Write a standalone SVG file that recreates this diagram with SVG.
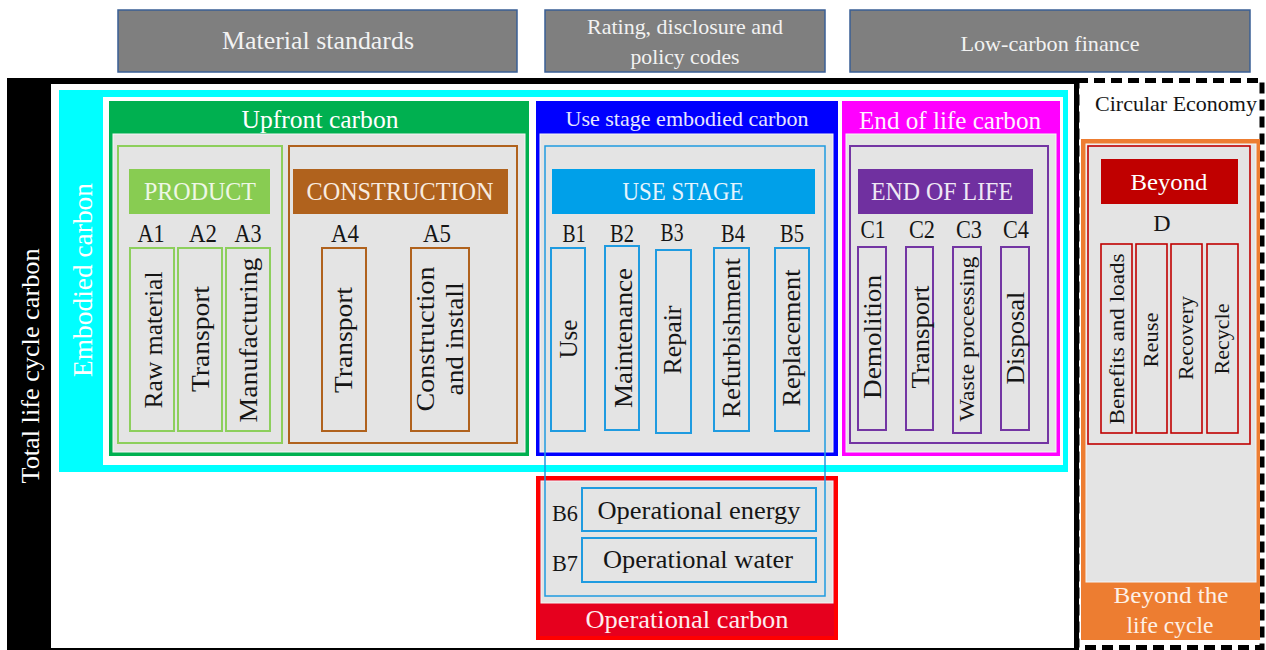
<svg xmlns="http://www.w3.org/2000/svg" width="1266" height="650" viewBox="0 0 1266 650" font-family="'Liberation Serif', 'DejaVu Serif', serif">
<style>
text{font-family:'Liberation Serif','DejaVu Serif',serif;}
.k{fill:#151515}
.hdr{fill:#7f7f7f;stroke:#3a5f95;stroke-width:1.5}
.ht{fill:#f2f2f2}
.gray{fill:#e4e4e4;stroke:#f6f6f6;stroke-width:1}
.lg{fill:none;stroke:#8dcf5c;stroke-width:2}
.br{fill:none;stroke:#b0621d;stroke-width:2}
.lb{fill:none;stroke:#1f9be0;stroke-width:2}
.pu{fill:none;stroke:#7335a3;stroke-width:2}
.dr{fill:none;stroke:#c00000;stroke-width:1.6}
</style>

<g id="material-standards">
<rect class="hdr" x="118" y="10" width="399" height="62"/>
<text class="ht" x="318" y="49" font-size="25" text-anchor="middle" textLength="192" lengthAdjust="spacingAndGlyphs">Material standards</text>
</g>
<g id="rating-disclosure">
<rect class="hdr" x="545" y="10" width="280" height="62"/>
<text class="ht" x="685" y="34" font-size="21" text-anchor="middle" textLength="196" lengthAdjust="spacingAndGlyphs">Rating, disclosure and</text>
<text class="ht" x="685" y="64" font-size="21" text-anchor="middle" textLength="109" lengthAdjust="spacingAndGlyphs">policy codes</text>
</g>
<g id="low-carbon-finance">
<rect class="hdr" x="850" y="10" width="400" height="62"/>
<text class="ht" x="1050" y="51" font-size="22" text-anchor="middle" textLength="179" lengthAdjust="spacingAndGlyphs">Low-carbon finance</text>
</g>

<g id="total-life-cycle-carbon">
<rect x="7" y="78" width="1072" height="572" fill="#000"/>
<rect x="51" y="84" width="1023" height="564" fill="#fff"/>
<text transform="translate(39,366) rotate(-90)" font-size="26" text-anchor="middle" fill="#fff" textLength="235" lengthAdjust="spacingAndGlyphs">Total life cycle carbon</text>
</g>

<g id="circular-economy">
<rect x="1077" y="80.5" width="185" height="567" fill="none" stroke="#000" stroke-width="5" stroke-dasharray="11 6"/>
<text class="k" x="1176" y="111" font-size="21" text-anchor="middle" textLength="162" lengthAdjust="spacingAndGlyphs">Circular Economy</text>
</g>

<g id="beyond-the-life-cycle">
<rect x="1081" y="139" width="179" height="501" fill="#ed7d31"/>
<rect class="gray" x="1086" y="144" width="170" height="438"/>
<text x="1171" y="603" font-size="24" text-anchor="middle" fill="#fdf0e6" textLength="115" lengthAdjust="spacingAndGlyphs">Beyond the</text>
<text x="1170" y="633" font-size="24" text-anchor="middle" fill="#fdf0e6" textLength="87" lengthAdjust="spacingAndGlyphs">life cycle</text>
</g>

<g id="beyond-d">
<rect class="dr" x="1088" y="146" width="162" height="298"/>
<rect x="1101" y="159" width="137" height="45" fill="#c00000"/>
<text x="1169" y="190" font-size="24" text-anchor="middle" fill="#fff" textLength="77" lengthAdjust="spacingAndGlyphs">Beyond</text>
<text class="k" x="1162" y="231" font-size="24" text-anchor="middle">D</text>
<rect class="dr" x="1101" y="244" width="31" height="189"/>
<rect class="dr" x="1136" y="244" width="31" height="189"/>
<rect class="dr" x="1171" y="244" width="31" height="189"/>
<rect class="dr" x="1207" y="244" width="31" height="189"/>
<text class="k" transform="translate(1124,339) rotate(-90)" font-size="21" text-anchor="middle" textLength="171" lengthAdjust="spacingAndGlyphs">Benefits and loads</text>
<text class="k" transform="translate(1158,340) rotate(-90)" font-size="22" text-anchor="middle" textLength="55" lengthAdjust="spacingAndGlyphs">Reuse</text>
<text class="k" transform="translate(1193,338) rotate(-90)" font-size="22" text-anchor="middle" textLength="84" lengthAdjust="spacingAndGlyphs">Recovery</text>
<text class="k" transform="translate(1229,339) rotate(-90)" font-size="22" text-anchor="middle" textLength="71" lengthAdjust="spacingAndGlyphs">Recycle</text>
</g>

<g id="embodied-carbon">
<rect x="59" y="90" width="1009" height="382" fill="#00ffff"/>
<rect x="103" y="97" width="960" height="368" fill="#fff"/>
<text transform="translate(92,280) rotate(-90)" font-size="27" text-anchor="middle" fill="#fff" textLength="194" lengthAdjust="spacingAndGlyphs">Embodied carbon</text>
</g>

<g id="upfront-carbon">
<rect x="109" y="101" width="420" height="355" fill="#00b050"/>
<rect class="gray" x="113" y="134" width="412" height="318"/>
<text x="320" y="128" font-size="25" text-anchor="middle" fill="#fff" textLength="157" lengthAdjust="spacingAndGlyphs">Upfront carbon</text>
</g>

<g id="product">
<rect class="lg" x="118" y="146" width="164" height="297"/>
<rect x="129" y="169" width="141" height="45" fill="#88cc52"/>
<text x="200" y="200" font-size="25" text-anchor="middle" fill="#eef7e6" textLength="112" lengthAdjust="spacingAndGlyphs">PRODUCT</text>
<text class="k" x="151" y="242" font-size="25" text-anchor="middle" textLength="27" lengthAdjust="spacingAndGlyphs">A1</text>
<text class="k" x="203" y="242" font-size="25" text-anchor="middle" textLength="28" lengthAdjust="spacingAndGlyphs">A2</text>
<text class="k" x="248" y="242" font-size="25" text-anchor="middle" textLength="27" lengthAdjust="spacingAndGlyphs">A3</text>
<rect class="lg" x="130" y="248" width="44" height="183"/>
<rect class="lg" x="178" y="248" width="44" height="183"/>
<rect class="lg" x="226" y="248" width="44" height="183"/>
<text class="k" transform="translate(162,340) rotate(-90)" font-size="26" text-anchor="middle" textLength="137" lengthAdjust="spacingAndGlyphs">Raw material</text>
<text class="k" transform="translate(209,339) rotate(-90)" font-size="26" text-anchor="middle" textLength="106" lengthAdjust="spacingAndGlyphs">Transport</text>
<text class="k" transform="translate(257,340) rotate(-90)" font-size="26" text-anchor="middle" textLength="165" lengthAdjust="spacingAndGlyphs">Manufacturing</text>
</g>

<g id="construction">
<rect class="br" x="289" y="146" width="228" height="297"/>
<rect x="293" y="169" width="215" height="45" fill="#b0621d"/>
<text x="400" y="200" font-size="25" text-anchor="middle" fill="#f8ece0" textLength="187" lengthAdjust="spacingAndGlyphs">CONSTRUCTION</text>
<text class="k" x="345" y="242" font-size="25" text-anchor="middle" textLength="28" lengthAdjust="spacingAndGlyphs">A4</text>
<text class="k" x="437" y="242" font-size="25" text-anchor="middle" textLength="28" lengthAdjust="spacingAndGlyphs">A5</text>
<rect class="br" x="322" y="248" width="44" height="183"/>
<rect class="br" x="411" y="248" width="58" height="183"/>
<text class="k" transform="translate(352,340) rotate(-90)" font-size="26" text-anchor="middle" textLength="106" lengthAdjust="spacingAndGlyphs">Transport</text>
<text class="k" transform="translate(434,339) rotate(-90)" font-size="26" text-anchor="middle" textLength="145" lengthAdjust="spacingAndGlyphs">Construction</text>
<text class="k" transform="translate(463,339) rotate(-90)" font-size="26" text-anchor="middle" textLength="113" lengthAdjust="spacingAndGlyphs">and install</text>
</g>

<g id="use-stage-embodied-carbon">
<rect x="536" y="101" width="302" height="355" fill="#0000ff"/>
<rect class="gray" x="540" y="134" width="293" height="318"/>
<text x="687" y="126" font-size="22" text-anchor="middle" fill="#e6e6ff" textLength="243" lengthAdjust="spacingAndGlyphs">Use stage embodied carbon</text>
</g>

<g id="end-of-life-carbon">
<rect x="842" y="101" width="218" height="355" fill="#ff00ff"/>
<rect class="gray" x="846" y="134" width="210" height="318"/>
<text x="950" y="129" font-size="25" text-anchor="middle" fill="#fff0ff" textLength="182" lengthAdjust="spacingAndGlyphs">End of life carbon</text>
</g>

<g id="end-of-life">
<rect class="pu" x="850" y="146" width="198" height="297"/>
<rect x="858" y="169" width="175" height="45" fill="#7030a0"/>
<text x="942" y="200" font-size="25" text-anchor="middle" fill="#efe8f5" textLength="142" lengthAdjust="spacingAndGlyphs">END OF LIFE</text>
<text class="k" x="873" y="238" font-size="25" text-anchor="middle" textLength="25" lengthAdjust="spacingAndGlyphs">C1</text>
<text class="k" x="922" y="238" font-size="25" text-anchor="middle" textLength="26" lengthAdjust="spacingAndGlyphs">C2</text>
<text class="k" x="969" y="238" font-size="25" text-anchor="middle" textLength="26" lengthAdjust="spacingAndGlyphs">C3</text>
<text class="k" x="1016" y="238" font-size="25" text-anchor="middle" textLength="26" lengthAdjust="spacingAndGlyphs">C4</text>
<rect class="pu" x="858" y="247" width="28" height="183"/>
<rect class="pu" x="906" y="247" width="27" height="183"/>
<rect class="pu" x="953" y="247" width="28" height="186"/>
<rect class="pu" x="1001" y="247" width="28" height="183"/>
<text class="k" transform="translate(881,337) rotate(-90)" font-size="26" text-anchor="middle" textLength="124" lengthAdjust="spacingAndGlyphs">Demolition</text>
<text class="k" transform="translate(929,337) rotate(-90)" font-size="26" text-anchor="middle" textLength="103" lengthAdjust="spacingAndGlyphs">Transport</text>
<text class="k" transform="translate(974,339) rotate(-90)" font-size="22" text-anchor="middle" textLength="165" lengthAdjust="spacingAndGlyphs">Waste processing</text>
<text class="k" transform="translate(1024,338) rotate(-90)" font-size="26" text-anchor="middle" textLength="93" lengthAdjust="spacingAndGlyphs">Disposal</text>
</g>

<g id="operational-carbon">
<rect x="538" y="478" width="298" height="160" fill="#e6001e" stroke="#ff0000" stroke-width="4"/>
<rect class="gray" x="541" y="481" width="292" height="122"/>
<text x="687" y="628" font-size="25" text-anchor="middle" fill="#fdecee" textLength="203" lengthAdjust="spacingAndGlyphs">Operational carbon</text>
</g>

<g id="use-stage">
<rect x="545" y="146" width="280" height="450" fill="none" stroke="#1f9be0" stroke-width="1.5"/>
<rect x="552" y="169" width="263" height="45" fill="#00a0e9"/>
<text x="683" y="200" font-size="25" text-anchor="middle" fill="#e6f4fd" textLength="121" lengthAdjust="spacingAndGlyphs">USE STAGE</text>
<text class="k" x="574" y="242" font-size="25" text-anchor="middle" textLength="23" lengthAdjust="spacingAndGlyphs">B1</text>
<text class="k" x="622" y="242" font-size="25" text-anchor="middle" textLength="24" lengthAdjust="spacingAndGlyphs">B2</text>
<text class="k" x="672" y="241" font-size="25" text-anchor="middle" textLength="23" lengthAdjust="spacingAndGlyphs">B3</text>
<text class="k" x="733" y="242" font-size="25" text-anchor="middle" textLength="24" lengthAdjust="spacingAndGlyphs">B4</text>
<text class="k" x="792" y="242" font-size="25" text-anchor="middle" textLength="24" lengthAdjust="spacingAndGlyphs">B5</text>
<rect class="lb" x="551" y="248" width="34" height="183"/>
<rect class="lb" x="605" y="246" width="34" height="184"/>
<rect class="lb" x="656" y="250" width="35" height="183"/>
<rect class="lb" x="714" y="248" width="35" height="183"/>
<rect class="lb" x="775" y="248" width="34" height="183"/>
<text class="k" transform="translate(577,339) rotate(-90)" font-size="26" text-anchor="middle" textLength="39" lengthAdjust="spacingAndGlyphs">Use</text>
<text class="k" transform="translate(632,338) rotate(-90)" font-size="26" text-anchor="middle" textLength="140" lengthAdjust="spacingAndGlyphs">Maintenance</text>
<text class="k" transform="translate(681,340) rotate(-90)" font-size="26" text-anchor="middle" textLength="69" lengthAdjust="spacingAndGlyphs">Repair</text>
<text class="k" transform="translate(740,338) rotate(-90)" font-size="26" text-anchor="middle" textLength="160" lengthAdjust="spacingAndGlyphs">Refurbishment</text>
<text class="k" transform="translate(800,338) rotate(-90)" font-size="26" text-anchor="middle" textLength="137" lengthAdjust="spacingAndGlyphs">Replacement</text>
</g>

<g id="operational-energy">
<rect x="582" y="488" width="234" height="43" fill="#e4e4e4" stroke="#1f9be0" stroke-width="2"/>
<text class="k" x="565" y="521" font-size="24" text-anchor="middle" textLength="26" lengthAdjust="spacingAndGlyphs">B6</text>
<text class="k" x="699" y="519" font-size="25" text-anchor="middle" textLength="203" lengthAdjust="spacingAndGlyphs">Operational energy</text>
</g>
<g id="operational-water">
<rect x="582" y="538" width="234" height="44" fill="#e4e4e4" stroke="#1f9be0" stroke-width="2"/>
<text class="k" x="565" y="571" font-size="24" text-anchor="middle" textLength="26" lengthAdjust="spacingAndGlyphs">B7</text>
<text class="k" x="698" y="568" font-size="25" text-anchor="middle" textLength="190" lengthAdjust="spacingAndGlyphs">Operational water</text>
</g>
</svg>
